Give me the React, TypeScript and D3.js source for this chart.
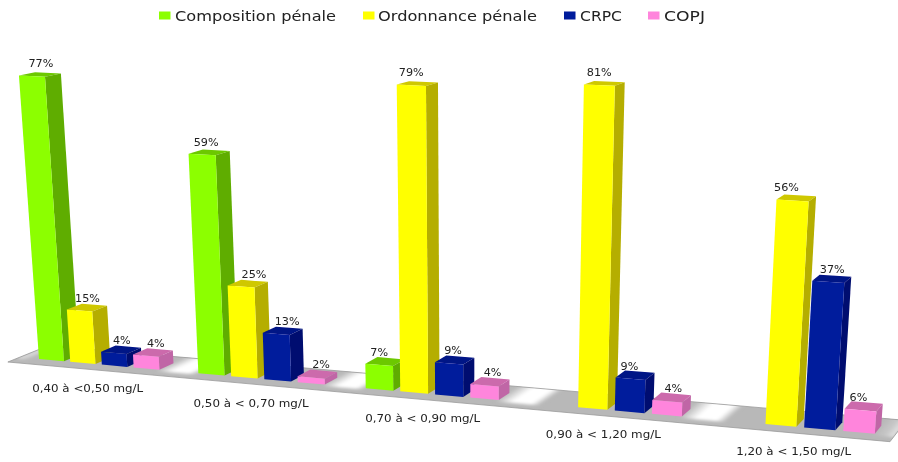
import React from "react";
import * as d3 from "d3";

const categories = ["0,40 à <0,50 mg/L", "0,50 à < 0,70 mg/L", "0,70 à < 0,90 mg/L", "0,90 à < 1,20 mg/L", "1,20 à < 1,50 mg/L"];
const seriesNames = ["Composition pénale", "Ordonnance pénale", "CRPC", "COPJ"];
const composition = [77, 59, 7, null, null];
const ordonnance = [15, 25, 79, 81, 56];
const crpc = [4, 13, 9, 9, 37];
const copj = [4, 2, 4, 4, 6];
const seriesValues = [composition, ordonnance, crpc, copj];

// Styling: front, side, top faces
const faceColors = [
  ["#8cff00", "#5fad00", "#6cc800"],
  ["#ffff00", "#b5ae00", "#cfc800"],
  ["#001a9c", "#000f70", "#001286"],
  ["#ff85dc", "#c066a6", "#cc6aac"],
];
// Hand nudges of the labels, as in the source slide [series][category]
const labelNudge = [
  [9, 4, 0, 0, 0],
  [8, 13, 0, 0, -6],
  [8, 11, 4, -1, 4],
  [10, 10, 8, 6, -2],
];
const legendLayout = [
  { sx: 159, tx: 175, tw: 161 },
  { sx: 363, tx: 378, tw: 159 },
  { sx: 564, tx: 580, tw: 42 },
  { sx: 648, tx: 664, tw: 41 },
];

const groupScale = d3.scaleBand<string>().domain(categories).range([0, 5]);
const slotScale = d3.scaleBand<string>().domain([...seriesNames, "gap"]).range([0, 1]);
const valueScale = d3.scaleLinear().domain([0.4, 81]).range([0, 80.6 * 3.745]);
const barWidth = slotScale.bandwidth() * 0.8;

// Perspective camera of the 3D chart: X along categories, Y up, Z into the page
const R = -1 / 6450;
function project(X: number, Y: number, Z: number): [number, number] {
  const w = 1 - 0.024 * X + R * Y + 0.01146 * Z;
  const nx = 39 + 154.6 * X + 470 * R * Y + 15.8 * Z;
  const ny = 359 + 5.29 * X - Y - 2.2 * Z;
  return [nx / w, ny / w];
}
const poly = (pts: [number, number][]) => d3.line()(pts) + "Z";

const FLOOR = { x0: -0.125, x1: 4.86, zFront: -0.75, zBack: 1.9, zWhite: -0.2 };
const GRAY = "#b8b8b8";
const floorPath = poly([
  project(FLOOR.x0, 0, FLOOR.zFront),
  project(FLOOR.x1, 0, FLOOR.zFront),
  project(FLOOR.x1, 0, FLOOR.zBack),
  project(FLOOR.x0, 0, FLOOR.zBack),
]);

function gapGradient(xa: number, xb: number) {
  const a = project(xa, 0, 0.5);
  const b = project(xb, 0, 0.5);
  const f = project(xa, 0, 1.5);
  let dx = f[0] - a[0], dy = f[1] - a[1];
  const len = Math.hypot(dx, dy);
  dx /= len; dy /= len;
  const nx = -dy, ny = dx;
  const d = (b[0] - a[0]) * nx + (b[1] - a[1]) * ny;
  return { x1: a[0], y1: a[1], x2: a[0] + nx * d, y2: a[1] + ny * d };
}

export default function App() {
  const gaps = d3.range(-1, 5).map((g) => {
    const xa = g < 0 ? FLOOR.x0 : g + 0.75;
    const xb = g < 0 ? 0 : g === 4 ? FLOOR.x1 : g + 1;
    return { g, xa, xb };
  });
  return (
    <svg
      width={898}
      height={462}
      style={{ position: "absolute", left: 0, top: 0, background: "#fff" }}
      fontFamily="'DejaVu Sans', sans-serif"
    >
      <defs>
        <filter id="soft" x="-5%" y="-5%" width="110%" height="110%">
          <feGaussianBlur stdDeviation="0.45" />
        </filter>
        <filter id="glare" x="-30%" y="-30%" width="160%" height="160%">
          <feGaussianBlur stdDeviation="1.6" />
        </filter>
        <clipPath id="floorClip">
          <path d={floorPath} />
        </clipPath>
        {gaps.map(({ g, xa, xb }) => {
          const v = gapGradient(xa, xb);
          const stops = g < 0
            ? [[0, "#e8e8e8"], [0.6, GRAY], [1, GRAY]]
            : g === 4
            ? [[0, GRAY], [0.6, "#c8c8c8"], [1, "#e4e4e4"]]
            : [[0, GRAY], [0.38, "#fff"], [0.78, "#fff"], [1, GRAY]];
          return (
            <linearGradient key={g} id={`gap${g}`} gradientUnits="userSpaceOnUse" {...v}>
              {stops.map(([o, c], i) => (
                <stop key={i} offset={o as number} stopColor={c as string} />
              ))}
            </linearGradient>
          );
        })}
      </defs>
      <g filter="url(#soft)">
        {/* floor */}
        <path d={floorPath} fill={GRAY} />
        <g clipPath="url(#floorClip)">
          <g filter="url(#glare)">
            {gaps.map(({ g, xa, xb }) => (
              <path
                key={g}
                d={poly([
                  project(xa, 0, FLOOR.zWhite),
                  project(xb, 0, FLOOR.zWhite),
                  project(xb, 0, FLOOR.zBack + 1),
                  project(xa, 0, FLOOR.zBack + 1),
                ])}
                fill={`url(#gap${g})`}
              />
            ))}
          </g>
        </g>
        <path d={floorPath} fill="none" stroke="#9a9a9a" strokeWidth={0.8} />
        {/* bars */}
        {categories.map((cat, c) =>
          seriesNames.map((name, s) => {
            const v = seriesValues[s][c];
            if (v == null) return null;
            const x0 = groupScale(cat)! + slotScale(name)!;
            const x1 = x0 + barWidth;
            const y = valueScale(v);
            const colors = faceColors[s];
            return (
              <g key={name + c}>
                <path d={poly([project(x0, y, 0), project(x1, y, 0), project(x1, y, 1), project(x0, y, 1)])} fill={colors[2]} />
                <path d={poly([project(x1, 0, 0), project(x1, y, 0), project(x1, y, 1), project(x1, 0, 1)])} fill={colors[1]} />
                <path d={poly([project(x0, 0, 0), project(x1, 0, 0), project(x1, y, 0), project(x0, y, 0)])} fill={colors[0]} />
              </g>
            );
          })
        )}
        {/* value labels */}
        {categories.map((cat, c) =>
          seriesNames.map((name, s) => {
            const v = seriesValues[s][c];
            if (v == null) return null;
            const x0 = groupScale(cat)! + slotScale(name)!;
            const p = project(x0 + barWidth / 2, valueScale(v), 0);
            return (
              <text
                key={name + c}
                x={p[0] + labelNudge[s][c]}
                y={p[1] - 12.5}
                textAnchor="middle"
                dominantBaseline="central"
                fontSize={11.2}
                fill="#222"
              >
                {v}%
              </text>
            );
          })
        )}
        {/* category labels */}
        {categories.map((cat, c) => {
          const p = project(groupScale(cat)! + 0.5, 0, 0);
          return (
            <text
              key={cat}
              x={p[0] - 30}
              y={p[1] + 22}
              textAnchor="middle"
              dominantBaseline="central"
              fontSize={10.5}
              fill="#222"
              textLength={c === 0 ? 111 : 115}
              lengthAdjust="spacingAndGlyphs"
            >
              {cat}
            </text>
          );
        })}
        {/* legend */}
        {seriesNames.map((name, s) => (
          <g key={name}>
            <rect x={legendLayout[s].sx} y={11.5} width={11.5} height={8} fill={faceColors[s][0]} />
            <text
              x={legendLayout[s].tx}
              y={16}
              dominantBaseline="central"
              fontSize={13.5}
              fill="#222"
              textLength={legendLayout[s].tw}
              lengthAdjust="spacingAndGlyphs"
            >
              {name}
            </text>
          </g>
        ))}
      </g>
    </svg>
  );
}
